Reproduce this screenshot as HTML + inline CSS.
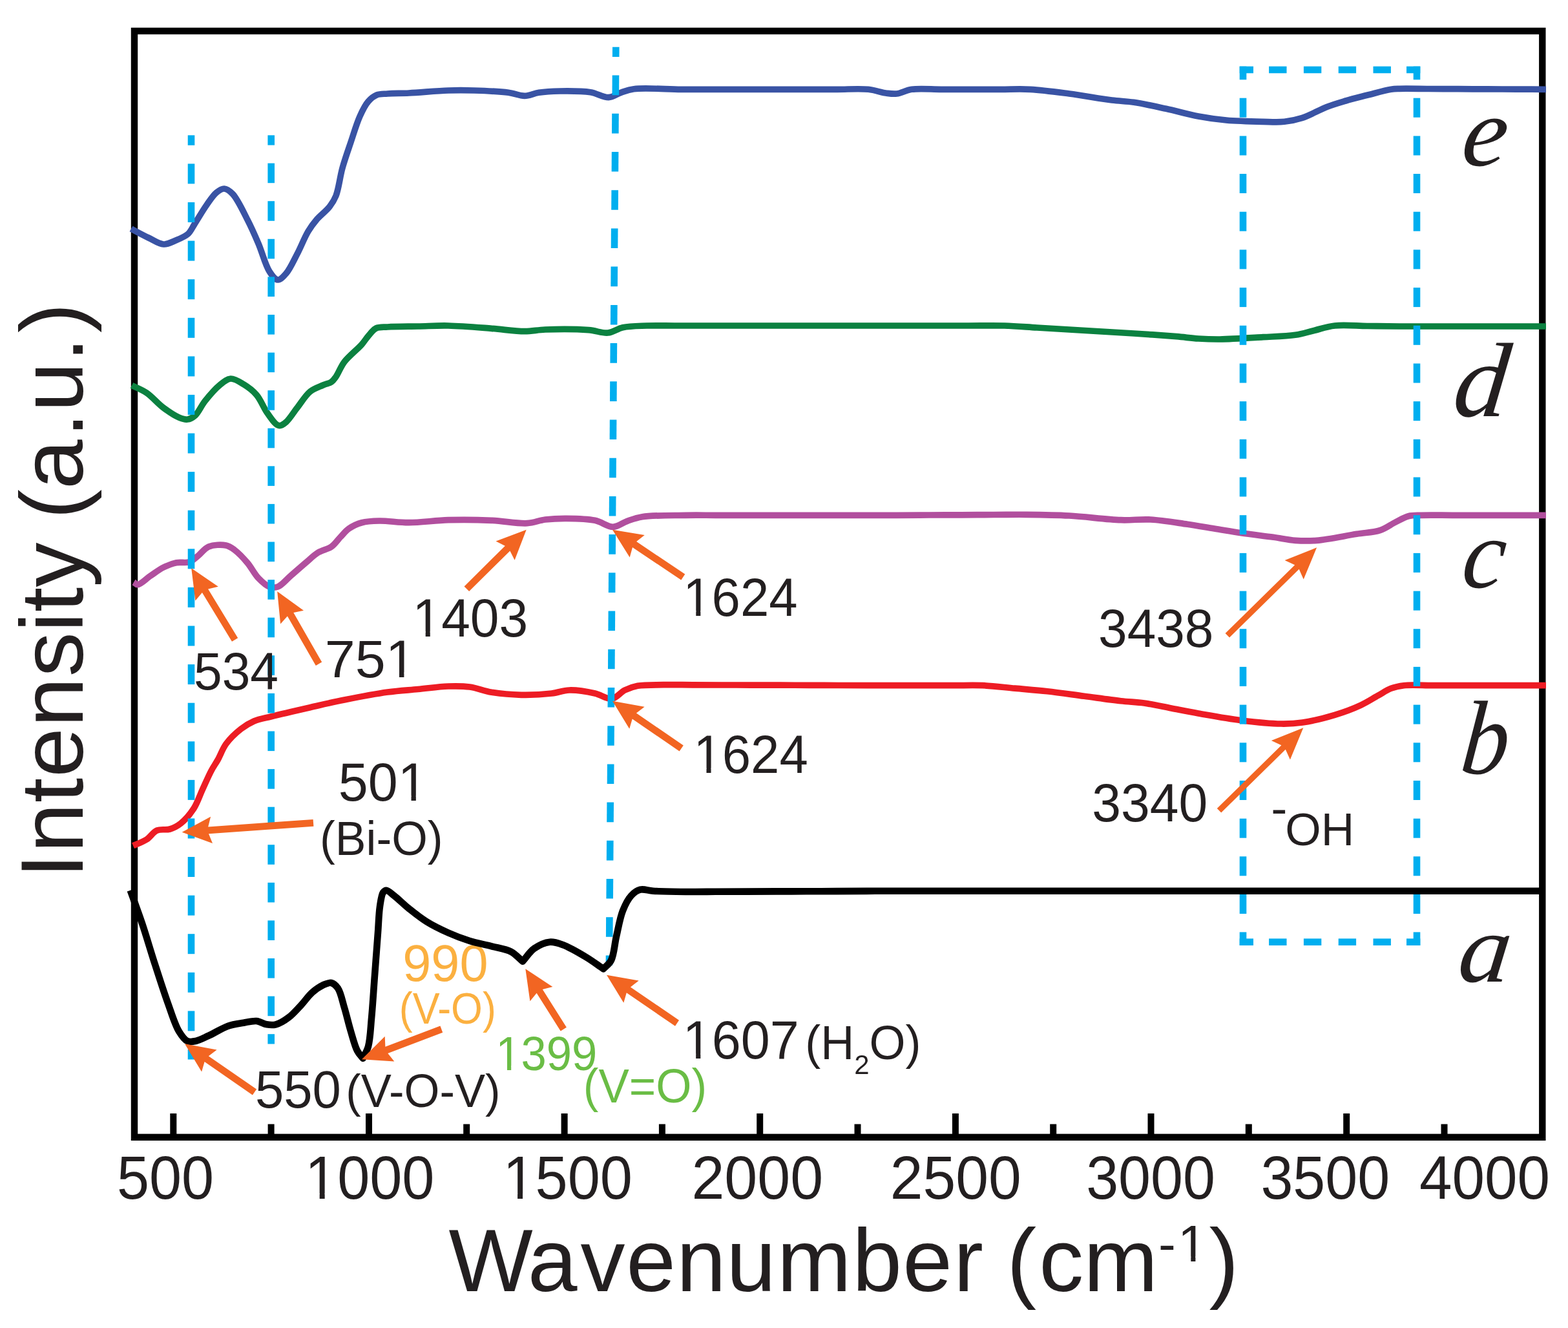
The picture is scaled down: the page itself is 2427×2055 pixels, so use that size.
<!DOCTYPE html>
<html lang="en"><head><meta charset="utf-8"><title>FTIR spectra</title>
<style>html,body{margin:0;padding:0;background:#fff}svg{display:block}text{font-family:"Liberation Sans",Arial,Helvetica,sans-serif;fill:#231f20}.it{font-family:"Liberation Serif","Times New Roman",Times,serif;font-style:italic}</style></head><body>
<svg xmlns="http://www.w3.org/2000/svg" width="2427" height="2055" viewBox="0 0 2427 2055">
<rect width="2427" height="2055" fill="#fff"/>
<rect x="208.0" y="48.0" width="2179.3" height="1711.8" fill="none" stroke="#000" stroke-width="10.4"/>
<rect x="263.3" y="1723.0" width="10.0" height="36.8" fill="#000"/>
<rect x="566.0" y="1723.0" width="10.0" height="36.8" fill="#000"/>
<rect x="868.6" y="1723.0" width="10.0" height="36.8" fill="#000"/>
<rect x="1171.2" y="1723.0" width="10.0" height="36.8" fill="#000"/>
<rect x="1473.9" y="1723.0" width="10.0" height="36.8" fill="#000"/>
<rect x="1776.5" y="1723.0" width="10.0" height="36.8" fill="#000"/>
<rect x="2079.2" y="1723.0" width="10.0" height="36.8" fill="#000"/>
<rect x="414.6" y="1739.5" width="10.0" height="20.3" fill="#000"/>
<rect x="717.2" y="1739.5" width="10.0" height="20.3" fill="#000"/>
<rect x="1019.9" y="1739.5" width="10.0" height="20.3" fill="#000"/>
<rect x="1322.5" y="1739.5" width="10.0" height="20.3" fill="#000"/>
<rect x="1625.2" y="1739.5" width="10.0" height="20.3" fill="#000"/>
<rect x="1927.8" y="1739.5" width="10.0" height="20.3" fill="#000"/>
<rect x="2230.5" y="1739.5" width="10.0" height="20.3" fill="#000"/>
<path d="M203.0 354.0C204.2 354.7 204.9 355.1 206.7 356.0C211.1 358.3 222.2 364.3 230.0 368.0C237.6 371.6 245.6 377.6 253.0 378.0C259.6 378.3 265.8 374.6 272.0 372.0C278.5 369.3 286.1 366.4 291.0 362.0C295.5 357.9 297.2 352.9 301.0 347.0C306.4 338.7 313.8 325.7 320.0 317.0C325.1 309.8 329.8 302.2 335.0 298.0C338.9 294.8 343.0 291.8 347.0 292.0C351.3 292.2 355.6 295.5 360.0 300.0C367.6 307.8 376.2 326.8 383.0 340.0C389.4 352.4 394.5 364.1 400.0 377.0C405.9 390.7 410.6 410.2 417.0 420.0C421.0 426.2 425.5 432.7 430.0 433.0C434.2 433.3 438.8 427.8 443.0 423.0C449.0 416.1 454.5 403.5 460.0 393.0C465.8 381.9 471.3 367.5 477.0 358.0C481.3 350.8 484.9 346.0 490.0 340.0C495.7 333.3 504.8 326.7 510.0 320.0C514.3 314.4 517.1 310.2 520.0 303.0C524.3 292.2 526.1 274.0 530.0 260.0C533.8 246.3 538.5 233.3 543.0 220.0C547.5 206.6 551.9 191.3 557.0 180.0C561.0 171.1 565.0 162.7 570.0 157.0C573.9 152.5 578.1 149.0 583.0 147.0C588.0 144.9 593.4 145.5 600.0 145.0C609.2 144.3 620.3 144.6 633.0 144.0C650.2 143.2 675.8 140.6 694.0 140.0C708.7 139.5 719.7 139.6 734.0 140.0C750.4 140.5 772.7 141.4 787.0 143.3C796.9 144.6 803.9 148.4 812.0 148.3C819.6 148.2 825.9 144.5 834.0 143.3C843.8 141.8 855.0 141.2 867.0 141.0C881.3 140.8 900.5 140.6 914.0 142.7C924.7 144.4 933.6 151.1 942.0 150.7C949.0 150.4 954.5 145.5 961.0 143.3C967.5 141.1 972.1 138.9 981.0 137.7C997.6 135.5 1032.2 138.2 1054.0 138.3C1071.8 138.4 1086.2 138.3 1102.3 138.3C1118.4 138.3 1134.6 138.3 1150.7 138.3C1166.8 138.3 1182.9 138.3 1199.0 138.3C1215.1 138.3 1231.2 138.3 1247.3 138.3C1263.4 138.3 1279.6 138.3 1295.7 138.3C1311.8 138.3 1330.3 136.9 1344.0 138.3C1354.4 139.4 1363.0 142.9 1371.0 144.0C1377.3 144.8 1382.0 145.7 1388.0 145.0C1395.2 144.2 1401.9 139.6 1411.0 138.3C1423.6 136.5 1441.7 138.3 1457.0 138.3C1472.3 138.3 1487.7 138.3 1503.0 138.3C1518.3 138.3 1533.7 138.3 1549.0 138.3C1564.3 138.3 1578.7 137.4 1595.0 138.3C1613.7 139.3 1634.6 142.3 1655.0 145.0C1676.5 147.8 1702.6 152.7 1721.0 155.0C1734.2 156.6 1742.6 156.5 1755.0 158.3C1770.1 160.5 1788.4 164.7 1805.0 168.3C1821.7 171.9 1838.9 177.0 1855.0 180.0C1869.8 182.8 1882.6 184.6 1898.0 186.0C1915.6 187.6 1938.6 188.0 1955.0 188.3C1967.5 188.6 1977.6 189.4 1988.0 188.3C1997.5 187.3 2005.3 185.8 2015.0 182.7C2027.2 178.8 2042.7 169.7 2055.0 165.0C2065.1 161.2 2073.2 158.9 2083.0 156.0C2093.5 152.9 2104.7 150.2 2116.0 147.3C2128.0 144.3 2143.8 139.8 2153.0 138.3C2158.4 137.4 2160.3 137.5 2166.0 137.3C2176.5 136.9 2196.3 137.4 2211.4 137.5C2226.5 137.6 2241.7 137.6 2256.8 137.7C2271.9 137.8 2287.1 137.8 2302.2 137.9C2317.3 138.0 2332.5 138.0 2347.6 138.1C2362.7 138.2 2377.9 138.2 2393.0 138.3" fill="none" stroke="#3953a4" stroke-width="9.7" stroke-linejoin="round" stroke-linecap="butt"/>
<path d="M204.0 596.3C211.7 600.2 219.4 602.8 227.0 608.0C235.8 614.0 244.2 624.5 253.0 631.0C260.9 636.9 270.0 643.1 277.0 646.0C281.8 648.0 285.8 649.5 290.0 649.0C294.2 648.5 298.2 646.3 302.0 643.0C307.4 638.3 311.2 628.4 317.0 621.0C323.6 612.7 332.5 602.1 340.0 596.0C345.7 591.4 351.0 586.4 357.0 586.0C363.3 585.6 370.6 590.8 377.0 594.7C384.0 598.9 391.2 604.3 397.0 611.0C403.4 618.4 407.6 630.1 413.0 638.0C417.6 644.8 422.9 652.8 427.0 656.0C429.2 657.7 430.8 658.8 433.0 658.7C435.9 658.6 439.5 656.0 443.0 653.0C448.4 648.3 454.1 638.5 460.0 631.0C466.4 622.9 472.6 612.0 480.0 606.0C486.2 601.0 494.0 598.7 500.0 596.0C504.7 593.9 509.6 593.4 513.0 591.0C516.0 588.9 517.5 586.5 520.0 583.0C523.9 577.5 527.2 567.6 533.0 560.0C539.9 550.9 553.4 540.6 560.0 533.0C564.3 528.0 566.4 524.1 570.0 520.0C573.7 515.8 577.1 510.3 582.0 508.0C587.1 505.6 592.6 506.5 600.0 506.0C612.0 505.2 631.3 505.3 647.0 505.0C662.7 504.7 677.0 503.6 694.0 504.0C714.4 504.4 740.2 506.7 761.0 508.3C779.2 509.7 797.0 512.7 812.0 512.7C823.9 512.7 831.4 510.5 844.0 510.0C862.2 509.3 893.1 509.3 911.0 510.7C923.0 511.6 931.8 515.9 941.0 515.0C949.3 514.2 955.3 508.6 964.0 506.7C974.7 504.4 988.2 504.5 1001.0 504.0C1014.8 503.5 1029.7 504.0 1044.0 504.0C1058.3 504.0 1072.7 504.0 1087.0 504.0C1101.3 504.0 1115.7 504.0 1130.0 504.0C1144.3 504.0 1158.7 504.0 1173.0 504.0C1187.3 504.0 1201.7 504.0 1216.0 504.0C1230.3 504.0 1244.7 504.0 1259.0 504.0C1273.3 504.0 1287.7 504.0 1302.0 504.0C1316.3 504.0 1330.7 504.0 1345.0 504.0C1359.3 504.0 1372.7 504.0 1388.0 504.0C1405.4 504.0 1425.1 504.0 1443.7 504.0C1462.2 504.0 1480.8 504.0 1499.3 504.0C1517.9 504.0 1537.0 503.5 1555.0 504.0C1572.1 504.5 1588.3 506.0 1605.0 507.0C1621.7 508.0 1638.3 509.0 1655.0 510.0C1671.7 511.0 1688.3 512.0 1705.0 513.0C1721.7 514.0 1737.2 514.8 1755.0 516.0C1775.5 517.3 1802.6 519.2 1821.0 520.7C1834.2 521.8 1843.7 523.3 1855.0 524.0C1866.1 524.7 1875.1 525.1 1888.0 525.0C1906.4 524.8 1934.3 522.9 1955.0 521.7C1972.9 520.7 1990.8 520.4 2005.0 518.3C2015.8 516.7 2023.3 514.0 2033.0 511.7C2043.5 509.2 2053.8 505.3 2066.0 504.0C2080.9 502.4 2099.3 504.3 2116.0 504.5C2132.7 504.7 2149.7 504.9 2166.0 505.0C2181.5 505.1 2196.3 505.0 2211.4 505.0C2226.5 505.0 2241.7 505.0 2256.8 505.0C2271.9 505.0 2287.1 505.0 2302.2 505.0C2317.3 505.0 2332.5 505.0 2347.6 505.0C2362.7 505.0 2377.9 505.0 2393.0 505.0" fill="none" stroke="#0b8140" stroke-width="9.7" stroke-linejoin="round" stroke-linecap="butt"/>
<path d="M207.0 901.0C209.0 902.2 210.4 904.8 213.0 904.7C217.7 904.6 226.3 895.5 233.0 891.0C239.6 886.6 246.1 881.4 253.0 878.0C259.5 874.8 266.2 872.1 273.0 870.7C279.6 869.4 287.2 871.7 293.0 869.7C298.4 867.8 302.3 863.4 307.0 859.7C312.2 855.6 316.4 848.7 323.0 846.0C330.4 842.9 342.8 842.5 350.0 844.0C355.3 845.1 358.5 847.6 363.0 851.0C369.3 855.7 376.9 863.8 383.0 871.0C389.2 878.3 393.8 888.3 400.0 894.7C405.3 900.2 411.4 906.1 417.0 908.0C421.4 909.5 425.5 909.6 430.0 908.0C436.4 905.7 443.1 896.9 450.0 891.0C457.4 884.6 465.6 877.3 473.0 871.0C479.9 865.2 486.0 858.9 493.0 854.7C499.4 850.8 507.3 850.0 513.0 846.0C518.6 842.1 522.4 835.8 527.0 831.0C531.4 826.5 534.8 821.6 540.0 818.0C545.7 814.0 552.6 810.7 560.0 808.7C568.2 806.5 576.8 806.2 587.0 806.0C600.3 805.7 616.6 808.8 633.0 808.7C651.9 808.6 673.2 805.3 694.0 804.7C715.8 804.1 739.8 804.4 761.0 805.3C780.3 806.2 800.8 810.6 816.0 809.7C826.9 809.0 834.2 805.2 844.0 804.0C854.5 802.7 865.2 802.2 877.0 802.3C890.6 802.4 908.1 802.6 921.0 805.3C931.6 807.5 940.3 815.5 949.0 815.3C956.8 815.1 963.5 808.9 971.0 806.3C978.5 803.7 984.2 801.3 994.0 799.7C1010.4 797.1 1040.7 797.7 1061.0 797.3C1078.0 797.0 1092.1 797.3 1107.7 797.3C1123.3 797.3 1138.9 797.3 1154.4 797.3C1170.0 797.3 1185.6 797.3 1201.1 797.3C1216.7 797.3 1232.3 797.3 1247.9 797.3C1263.4 797.3 1279.0 797.3 1294.6 797.3C1310.1 797.3 1325.7 797.3 1341.3 797.3C1356.9 797.3 1372.2 797.3 1388.0 797.3C1404.4 797.3 1421.3 797.1 1438.0 797.0C1454.7 797.0 1471.3 796.9 1488.0 796.8C1504.7 796.7 1521.3 796.6 1538.0 796.5C1554.7 796.5 1570.1 796.1 1588.0 796.3C1608.7 796.5 1631.7 796.7 1655.0 798.0C1680.5 799.4 1712.0 803.9 1735.0 804.7C1752.4 805.3 1764.9 803.1 1781.0 804.0C1799.0 805.0 1820.5 808.8 1838.0 811.3C1852.9 813.5 1865.7 815.8 1879.5 818.0C1893.3 820.2 1906.5 822.6 1921.0 824.7C1936.9 827.0 1955.9 829.2 1971.0 831.3C1983.4 833.0 1993.7 835.5 2005.0 836.3C2016.1 837.1 2025.3 837.3 2038.0 836.3C2055.5 834.9 2082.1 829.1 2100.0 826.3C2113.6 824.1 2125.5 824.2 2136.0 820.7C2145.1 817.7 2152.3 811.8 2160.0 808.0C2166.9 804.6 2173.2 800.5 2180.0 798.7C2186.5 797.0 2191.9 797.6 2200.0 797.3C2212.6 796.9 2232.2 797.3 2248.2 797.3C2264.3 797.3 2280.4 797.3 2296.5 797.3C2312.6 797.3 2328.7 797.3 2344.8 797.3C2360.8 797.3 2376.9 797.3 2393.0 797.3" fill="none" stroke="#b14f9e" stroke-width="9.7" stroke-linejoin="round" stroke-linecap="butt"/>
<path d="M206.0 1308.7C213.0 1305.5 220.7 1303.1 227.0 1299.0C233.0 1295.1 236.9 1287.6 243.0 1285.0C248.9 1282.4 256.8 1284.9 263.0 1283.0C269.1 1281.2 274.5 1278.4 280.0 1274.0C286.9 1268.5 294.5 1259.5 300.0 1251.0C305.5 1242.4 308.6 1232.3 313.0 1222.7C317.6 1212.8 322.5 1201.1 327.0 1192.7C330.4 1186.2 333.5 1182.2 337.0 1176.0C341.2 1168.6 344.3 1158.8 350.0 1151.0C356.1 1142.7 365.2 1134.1 373.0 1128.0C379.6 1122.9 385.6 1119.2 393.0 1116.0C401.1 1112.5 409.2 1111.4 420.0 1108.7C436.0 1104.7 460.6 1099.1 480.0 1094.7C498.2 1090.6 514.3 1086.7 533.0 1083.0C554.0 1078.8 579.6 1073.8 600.0 1071.0C617.0 1068.7 631.3 1068.0 647.0 1066.5C662.7 1065.0 679.7 1062.5 694.0 1062.0C706.0 1061.6 716.0 1061.5 727.0 1063.0C738.3 1064.5 748.7 1069.3 761.0 1071.3C775.1 1073.6 791.6 1075.0 807.0 1075.3C822.6 1075.6 840.5 1074.6 854.0 1073.0C864.3 1071.8 871.1 1068.3 881.0 1068.0C893.0 1067.6 909.2 1070.4 921.0 1073.0C930.7 1075.1 939.1 1082.4 947.0 1081.3C954.4 1080.3 960.1 1071.4 967.0 1068.0C973.5 1064.8 979.1 1062.8 987.0 1061.3C997.9 1059.3 1013.3 1060.0 1027.0 1059.7C1041.6 1059.4 1057.1 1059.8 1072.1 1059.8C1087.2 1059.9 1102.2 1059.9 1117.2 1060.0C1132.3 1060.0 1147.3 1060.0 1162.4 1060.1C1177.4 1060.1 1192.5 1060.2 1207.5 1060.2C1222.5 1060.2 1237.6 1060.3 1252.6 1060.3C1267.7 1060.4 1282.7 1060.4 1297.8 1060.5C1312.8 1060.5 1327.8 1060.5 1342.9 1060.6C1357.9 1060.6 1373.0 1060.7 1388.0 1060.7C1402.8 1060.7 1417.6 1060.7 1432.3 1060.7C1447.1 1060.7 1461.9 1060.7 1476.7 1060.7C1491.4 1060.7 1505.8 1060.0 1521.0 1060.7C1537.2 1061.4 1554.3 1063.7 1571.0 1065.2C1587.7 1066.7 1603.8 1067.8 1621.0 1069.7C1639.4 1071.7 1659.0 1074.7 1678.0 1077.2C1697.0 1079.7 1718.2 1082.8 1735.0 1084.7C1748.4 1086.2 1758.6 1086.3 1771.0 1088.0C1784.5 1089.9 1799.0 1093.3 1813.0 1096.0C1827.0 1098.7 1839.4 1101.3 1855.0 1104.0C1874.5 1107.4 1899.3 1112.0 1921.0 1114.7C1941.9 1117.3 1965.6 1119.8 1983.0 1120.0C1995.7 1120.2 2003.9 1119.8 2016.0 1118.0C2031.0 1115.8 2050.4 1111.0 2066.0 1106.3C2080.2 1102.0 2094.2 1096.8 2106.0 1091.3C2116.1 1086.6 2124.7 1080.9 2133.0 1076.3C2140.2 1072.3 2146.1 1067.9 2153.0 1065.3C2159.5 1062.8 2165.0 1061.6 2173.0 1060.7C2184.8 1059.4 2202.3 1060.7 2217.0 1060.7C2231.7 1060.7 2246.3 1060.7 2261.0 1060.7C2275.7 1060.7 2290.3 1060.7 2305.0 1060.7C2319.7 1060.7 2334.3 1060.7 2349.0 1060.7C2363.7 1060.7 2378.3 1060.7 2393.0 1060.7" fill="none" stroke="#ed1c24" stroke-width="9.7" stroke-linejoin="round" stroke-linecap="butt"/>
<g fill="#00aeef">
<polygon points="290.7,209.3 301.3,209.3 301.3,224.8 290.7,224.8"/>
<polygon points="290.7,253.4 301.3,253.4 301.3,284.4 290.7,284.4"/>
<polygon points="290.7,313.0 301.3,313.0 301.3,344.0 290.7,344.0"/>
<polygon points="290.7,372.6 301.3,372.6 301.3,403.6 290.7,403.6"/>
<polygon points="290.7,432.2 301.3,432.2 301.3,463.2 290.7,463.2"/>
<polygon points="290.7,491.8 301.3,491.8 301.3,522.8 290.7,522.8"/>
<polygon points="290.7,551.4 301.3,551.4 301.3,582.4 290.7,582.4"/>
<polygon points="290.7,610.9 301.3,610.9 301.3,641.9 290.7,641.9"/>
<polygon points="290.7,670.5 301.3,670.5 301.3,701.5 290.7,701.5"/>
<polygon points="290.7,730.1 301.3,730.1 301.3,761.1 290.7,761.1"/>
<polygon points="290.7,789.7 301.3,789.7 301.3,820.7 290.7,820.7"/>
<polygon points="290.7,849.3 301.3,849.3 301.3,880.3 290.7,880.3"/>
<polygon points="290.7,908.9 301.3,908.9 301.3,939.9 290.7,939.9"/>
<polygon points="290.7,968.5 301.3,968.5 301.3,999.5 290.7,999.5"/>
<polygon points="290.7,1028.1 301.3,1028.1 301.3,1059.1 290.7,1059.1"/>
<polygon points="290.7,1087.7 301.3,1087.7 301.3,1118.7 290.7,1118.7"/>
<polygon points="290.7,1147.3 301.3,1147.3 301.3,1178.3 290.7,1178.3"/>
<polygon points="290.7,1206.9 301.3,1206.9 301.3,1237.9 290.7,1237.9"/>
<polygon points="290.7,1266.5 301.3,1266.5 301.3,1297.5 290.7,1297.5"/>
<polygon points="290.7,1326.0 301.3,1326.0 301.3,1357.0 290.7,1357.0"/>
<polygon points="290.7,1385.6 301.3,1385.6 301.3,1416.6 290.7,1416.6"/>
<polygon points="290.7,1445.2 301.3,1445.2 301.3,1476.2 290.7,1476.2"/>
<polygon points="290.7,1504.8 301.3,1504.8 301.3,1535.8 290.7,1535.8"/>
<polygon points="290.7,1564.4 301.3,1564.4 301.3,1595.4 290.7,1595.4"/>
<polygon points="290.7,1624.0 301.3,1624.0 301.3,1639.5 290.7,1639.5"/>
<polygon points="414.4,209.3 425.0,209.3 425.0,224.6 414.4,224.6"/>
<polygon points="414.4,252.6 425.0,252.6 425.0,283.2 414.4,283.2"/>
<polygon points="414.4,311.2 425.0,311.2 425.0,341.8 414.4,341.8"/>
<polygon points="414.4,369.8 425.0,369.8 425.0,400.4 414.4,400.4"/>
<polygon points="414.4,428.4 425.0,428.4 425.0,459.0 414.4,459.0"/>
<polygon points="414.4,487.0 425.0,487.0 425.0,517.6 414.4,517.6"/>
<polygon points="414.4,545.6 425.0,545.6 425.0,576.1 414.4,576.1"/>
<polygon points="414.4,604.1 425.0,604.1 425.0,634.7 414.4,634.7"/>
<polygon points="414.4,662.7 425.0,662.7 425.0,693.3 414.4,693.3"/>
<polygon points="414.4,721.3 425.0,721.3 425.0,751.9 414.4,751.9"/>
<polygon points="414.4,779.9 425.0,779.9 425.0,810.5 414.4,810.5"/>
<polygon points="414.4,838.5 425.0,838.5 425.0,869.1 414.4,869.1"/>
<polygon points="414.4,897.1 425.0,897.1 425.0,927.7 414.4,927.7"/>
<polygon points="414.4,955.7 425.0,955.7 425.0,986.3 414.4,986.3"/>
<polygon points="414.4,1014.3 425.0,1014.3 425.0,1044.9 414.4,1044.9"/>
<polygon points="414.4,1072.9 425.0,1072.9 425.0,1103.5 414.4,1103.5"/>
<polygon points="414.4,1131.5 425.0,1131.5 425.0,1162.1 414.4,1162.1"/>
<polygon points="414.4,1190.1 425.0,1190.1 425.0,1220.7 414.4,1220.7"/>
<polygon points="414.4,1248.7 425.0,1248.7 425.0,1279.2 414.4,1279.2"/>
<polygon points="414.4,1307.2 425.0,1307.2 425.0,1337.8 414.4,1337.8"/>
<polygon points="414.4,1365.8 425.0,1365.8 425.0,1396.4 414.4,1396.4"/>
<polygon points="414.4,1424.4 425.0,1424.4 425.0,1455.0 414.4,1455.0"/>
<polygon points="414.4,1483.0 425.0,1483.0 425.0,1513.6 414.4,1513.6"/>
<polygon points="414.4,1541.6 425.0,1541.6 425.0,1572.2 414.4,1572.2"/>
<polygon points="414.4,1600.2 425.0,1600.2 425.0,1615.5 414.4,1615.5"/>
<polygon points="948.0,72.7 958.6,72.7 958.5,88.0 947.9,88.0"/>
<polygon points="947.7,116.6 958.3,116.6 958.1,147.2 947.5,147.2"/>
<polygon points="947.2,175.8 957.8,175.8 957.6,206.4 947.0,206.4"/>
<polygon points="946.8,235.0 957.4,235.0 957.2,265.6 946.6,265.6"/>
<polygon points="946.4,294.2 957.0,294.2 956.8,324.8 946.2,324.8"/>
<polygon points="945.9,353.4 956.5,353.4 956.3,384.0 945.7,384.0"/>
<polygon points="945.5,412.6 956.1,412.6 955.9,443.2 945.3,443.2"/>
<polygon points="945.1,471.9 955.7,471.9 955.5,502.5 944.9,502.5"/>
<polygon points="944.6,531.1 955.2,531.1 955.0,561.7 944.4,561.7"/>
<polygon points="944.2,590.3 954.8,590.3 954.6,620.9 944.0,620.9"/>
<polygon points="943.8,649.5 954.4,649.5 954.2,680.1 943.6,680.1"/>
<polygon points="943.3,708.7 953.9,708.7 953.7,739.3 943.1,739.3"/>
<polygon points="942.9,767.9 953.5,767.9 953.3,798.5 942.7,798.5"/>
<polygon points="942.5,827.1 953.1,827.1 952.9,857.7 942.3,857.7"/>
<polygon points="942.0,886.3 952.6,886.3 952.4,916.9 941.8,916.9"/>
<polygon points="941.6,945.5 952.2,945.5 952.0,976.1 941.4,976.1"/>
<polygon points="941.2,1004.7 951.8,1004.7 951.6,1035.3 941.0,1035.3"/>
<polygon points="940.7,1063.9 951.3,1063.9 951.1,1094.5 940.5,1094.5"/>
<polygon points="940.3,1123.2 950.9,1123.2 950.7,1153.8 940.1,1153.8"/>
<polygon points="939.9,1182.4 950.5,1182.4 950.3,1213.0 939.7,1213.0"/>
<polygon points="939.4,1241.6 950.0,1241.6 949.8,1272.2 939.2,1272.2"/>
<polygon points="939.0,1300.8 949.6,1300.8 949.4,1331.4 938.8,1331.4"/>
<polygon points="938.6,1360.0 949.2,1360.0 949.0,1390.6 938.4,1390.6"/>
<polygon points="938.1,1419.2 948.7,1419.2 948.5,1449.8 937.9,1449.8"/>
<polygon points="937.7,1478.4 948.3,1478.4 948.2,1493.7 937.6,1493.7"/>
<rect x="1918.7" y="102.7" width="21.3" height="10.6"/>
<rect x="2177.0" y="102.7" width="21.3" height="10.6"/>
<rect x="1964.1" y="102.7" width="27.4" height="10.6"/>
<rect x="2017.9" y="102.7" width="27.4" height="10.6"/>
<rect x="2071.7" y="102.7" width="27.4" height="10.6"/>
<rect x="2125.5" y="102.7" width="27.4" height="10.6"/>
<rect x="1918.7" y="1452.4" width="21.3" height="10.6"/>
<rect x="2177.0" y="1452.4" width="21.3" height="10.6"/>
<rect x="1964.1" y="1452.4" width="27.4" height="10.6"/>
<rect x="2017.9" y="1452.4" width="27.4" height="10.6"/>
<rect x="2071.7" y="1452.4" width="27.4" height="10.6"/>
<rect x="2125.5" y="1452.4" width="27.4" height="10.6"/>
<rect x="1918.7" y="102.7" width="10.6" height="20.6"/>
<rect x="1918.7" y="1442.4" width="10.6" height="20.6"/>
<rect x="1918.7" y="151.7" width="10.6" height="30.0"/>
<rect x="1918.7" y="210.4" width="10.6" height="30.0"/>
<rect x="1918.7" y="269.0" width="10.6" height="30.0"/>
<rect x="1918.7" y="327.7" width="10.6" height="30.0"/>
<rect x="1918.7" y="386.4" width="10.6" height="30.0"/>
<rect x="1918.7" y="445.1" width="10.6" height="30.0"/>
<rect x="1918.7" y="503.8" width="10.6" height="30.0"/>
<rect x="1918.7" y="562.5" width="10.6" height="30.0"/>
<rect x="1918.7" y="621.1" width="10.6" height="30.0"/>
<rect x="1918.7" y="679.8" width="10.6" height="30.0"/>
<rect x="1918.7" y="738.5" width="10.6" height="30.0"/>
<rect x="1918.7" y="797.2" width="10.6" height="30.0"/>
<rect x="1918.7" y="855.9" width="10.6" height="30.0"/>
<rect x="1918.7" y="914.6" width="10.6" height="30.0"/>
<rect x="1918.7" y="973.2" width="10.6" height="30.0"/>
<rect x="1918.7" y="1031.9" width="10.6" height="30.0"/>
<rect x="1918.7" y="1090.6" width="10.6" height="30.0"/>
<rect x="1918.7" y="1149.3" width="10.6" height="30.0"/>
<rect x="1918.7" y="1208.0" width="10.6" height="30.0"/>
<rect x="1918.7" y="1266.7" width="10.6" height="30.0"/>
<rect x="1918.7" y="1325.3" width="10.6" height="30.0"/>
<rect x="1918.7" y="1384.0" width="10.6" height="30.0"/>
<rect x="2187.7" y="102.7" width="10.6" height="20.6"/>
<rect x="2187.7" y="1442.4" width="10.6" height="20.6"/>
<rect x="2187.7" y="151.7" width="10.6" height="30.0"/>
<rect x="2187.7" y="210.4" width="10.6" height="30.0"/>
<rect x="2187.7" y="269.0" width="10.6" height="30.0"/>
<rect x="2187.7" y="327.7" width="10.6" height="30.0"/>
<rect x="2187.7" y="386.4" width="10.6" height="30.0"/>
<rect x="2187.7" y="445.1" width="10.6" height="30.0"/>
<rect x="2187.7" y="503.8" width="10.6" height="30.0"/>
<rect x="2187.7" y="562.5" width="10.6" height="30.0"/>
<rect x="2187.7" y="621.1" width="10.6" height="30.0"/>
<rect x="2187.7" y="679.8" width="10.6" height="30.0"/>
<rect x="2187.7" y="738.5" width="10.6" height="30.0"/>
<rect x="2187.7" y="797.2" width="10.6" height="30.0"/>
<rect x="2187.7" y="855.9" width="10.6" height="30.0"/>
<rect x="2187.7" y="914.6" width="10.6" height="30.0"/>
<rect x="2187.7" y="973.2" width="10.6" height="30.0"/>
<rect x="2187.7" y="1031.9" width="10.6" height="30.0"/>
<rect x="2187.7" y="1090.6" width="10.6" height="30.0"/>
<rect x="2187.7" y="1149.3" width="10.6" height="30.0"/>
<rect x="2187.7" y="1208.0" width="10.6" height="30.0"/>
<rect x="2187.7" y="1266.7" width="10.6" height="30.0"/>
<rect x="2187.7" y="1325.3" width="10.6" height="30.0"/>
<rect x="2187.7" y="1384.0" width="10.6" height="30.0"/>
</g>
<text transform="translate(623.23 1518.20) scale(1.0044 1)" font-size="78.92" style="fill:#fbb040">990</text>
<text transform="translate(617.83 1583.90) scale(0.9101 1)" font-size="69.04" style="fill:#fbb040">(V-O)</text>
<path d="M201.7 1377.7C207.8 1394.8 213.9 1410.9 220.0 1429.0C226.7 1449.0 233.2 1471.8 240.0 1492.7C246.6 1513.0 253.4 1534.4 260.0 1552.7C265.7 1568.4 270.7 1585.7 277.0 1596.0C281.1 1602.7 285.1 1608.8 290.0 1611.0C294.0 1612.8 298.3 1611.9 303.0 1611.0C309.1 1609.8 315.7 1606.0 323.0 1602.7C332.1 1598.6 343.3 1591.1 353.0 1587.7C361.3 1584.8 369.3 1584.0 377.0 1582.7C383.9 1581.5 390.8 1579.4 397.0 1580.0C402.7 1580.5 407.8 1584.5 413.0 1585.3C417.8 1586.1 422.1 1586.6 427.0 1585.3C433.3 1583.7 440.7 1579.1 447.0 1574.3C454.1 1569.0 460.8 1560.9 467.0 1554.3C472.7 1548.2 477.2 1541.1 483.0 1536.0C488.3 1531.3 494.5 1526.8 500.0 1524.3C504.4 1522.3 509.1 1520.1 513.0 1521.0C516.8 1521.9 520.1 1525.1 523.0 1529.3C527.5 1535.8 529.8 1548.7 533.0 1559.3C536.5 1570.9 539.5 1584.4 543.0 1596.0C546.2 1606.6 549.1 1618.5 553.0 1626.0C555.6 1631.1 558.8 1633.8 561.7 1637.7C564.5 1631.6 567.9 1626.9 570.0 1619.3C573.1 1608.1 573.5 1592.0 575.0 1576.0C576.9 1556.2 578.3 1531.5 580.0 1509.3C581.7 1487.1 583.5 1462.1 585.0 1442.7C586.1 1427.7 586.3 1414.0 588.0 1402.7C589.3 1394.3 590.3 1384.9 593.0 1381.0C594.4 1379.0 596.0 1377.7 598.0 1377.7C601.1 1377.7 605.5 1382.5 610.0 1386.0C616.6 1391.1 624.9 1399.5 633.0 1406.0C641.5 1412.8 650.2 1419.9 660.0 1426.0C670.4 1432.5 682.6 1438.4 694.0 1443.5C704.9 1448.4 715.8 1452.5 727.0 1456.0C738.1 1459.5 750.0 1461.4 761.0 1464.3C771.3 1467.0 782.7 1468.3 791.0 1472.7C798.2 1476.5 803.0 1482.7 809.0 1487.7C815.0 1481.0 819.9 1472.7 827.0 1467.7C834.0 1462.8 843.3 1458.4 851.0 1457.7C857.9 1457.1 863.6 1459.3 871.0 1462.0C881.5 1465.8 896.0 1474.4 907.0 1481.0C916.8 1486.9 925.0 1493.2 934.0 1499.3C938.0 1494.9 942.9 1492.1 946.0 1486.0C950.5 1477.2 951.1 1461.8 954.0 1449.3C957.1 1436.2 959.5 1420.6 964.0 1409.3C967.6 1400.2 971.8 1391.6 977.0 1386.0C981.1 1381.5 985.7 1378.0 991.0 1376.7C996.9 1375.2 1002.8 1378.2 1011.0 1378.7C1023.9 1379.5 1044.6 1379.8 1061.0 1380.0C1076.8 1380.2 1092.1 1379.9 1107.7 1379.8C1123.3 1379.8 1138.9 1379.7 1154.4 1379.6C1170.0 1379.6 1185.6 1379.5 1201.1 1379.4C1216.7 1379.4 1232.3 1379.3 1247.9 1379.3C1263.4 1379.2 1279.0 1379.1 1294.6 1379.1C1310.1 1379.0 1325.7 1378.9 1341.3 1378.9C1356.9 1378.8 1372.7 1378.7 1388.0 1378.7C1402.7 1378.7 1417.0 1378.7 1431.4 1378.7C1445.9 1378.7 1460.4 1378.7 1474.9 1378.7C1489.3 1378.7 1503.8 1378.7 1518.3 1378.7C1532.8 1378.7 1547.3 1378.7 1561.7 1378.7C1576.2 1378.7 1590.7 1378.7 1605.2 1378.7C1619.7 1378.7 1634.1 1378.7 1648.6 1378.7C1663.1 1378.7 1677.6 1378.7 1692.0 1378.7C1706.5 1378.7 1721.0 1378.7 1735.5 1378.7C1750.0 1378.7 1764.4 1378.7 1778.9 1378.7C1793.4 1378.7 1807.9 1378.7 1822.3 1378.7C1836.8 1378.7 1851.3 1378.7 1865.8 1378.7C1880.3 1378.7 1894.7 1378.7 1909.2 1378.7C1923.7 1378.7 1938.2 1378.7 1952.7 1378.7C1967.1 1378.7 1981.6 1378.7 1996.1 1378.7C2010.6 1378.7 2025.0 1378.7 2039.5 1378.7C2054.0 1378.7 2068.5 1378.7 2083.0 1378.7C2097.4 1378.7 2111.9 1378.7 2126.4 1378.7C2140.9 1378.7 2155.3 1378.7 2169.8 1378.7C2184.3 1378.7 2198.8 1378.7 2213.3 1378.7C2227.7 1378.7 2242.2 1378.7 2256.7 1378.7C2271.2 1378.7 2285.7 1378.7 2300.1 1378.7C2314.6 1378.7 2329.1 1378.7 2343.6 1378.7C2358.0 1378.7 2372.5 1378.7 2387.0 1378.7" fill="none" stroke="#000000" stroke-width="10.6" stroke-linejoin="round" stroke-linecap="butt"/>
<g fill="#f26522">
<polygon points="296.2,879.3 337.8,907.8 322.1,911.5 368.2,987.2 359.0,992.8 312.9,917.1 302.4,929.4"/>
<polygon points="429.2,915.2 470.0,944.8 454.3,948.1 498.2,1024.6 488.8,1030.0 444.9,953.5 434.1,965.4"/>
<polygon points="814.7,819.7 796.6,866.8 789.4,852.4 726.1,915.1 718.5,907.5 781.8,844.7 767.5,837.4"/>
<polygon points="948.0,819.7 997.7,828.1 985.1,838.1 1060.3,888.5 1054.3,897.5 979.0,847.0 974.7,862.5"/>
<polygon points="948.0,1084.7 997.6,1093.7 984.9,1103.5 1057.8,1153.5 1051.6,1162.5 978.7,1112.4 974.2,1127.8"/>
<polygon points="2038.1,847.3 2017.7,896.4 2010.7,880.7 1903.0,986.5 1896.6,979.9 2004.2,874.2 1988.6,866.9"/>
<polygon points="2017.3,1126.3 1996.9,1175.4 1989.8,1159.7 1890.2,1257.6 1883.8,1251.0 1983.4,1153.2 1967.8,1145.9"/>
<polygon points="281.7,1287.7 326.1,1263.8 322.2,1279.4 484.6,1267.9 485.4,1278.7 323.0,1290.2 329.0,1305.1"/>
<polygon points="286.0,1615.3 335.6,1624.4 322.8,1634.2 397.1,1685.6 390.9,1694.4 316.6,1643.1 312.1,1658.5"/>
<polygon points="560.0,1639.3 595.7,1603.7 596.4,1619.8 681.4,1587.6 685.2,1597.8 600.3,1629.9 610.3,1642.4"/>
<polygon points="813.3,1499.3 855.4,1527.1 839.8,1531.1 876.9,1589.8 867.7,1595.6 830.6,1536.8 820.4,1549.2"/>
<polygon points="939.0,1508.7 988.7,1517.6 975.9,1527.4 1051.0,1578.8 1045.0,1587.8 969.8,1536.3 965.3,1551.8"/>
</g>
<text transform="translate(299.95 1067.30) scale(0.9688 1)" font-size="81.10">534</text>
<text transform="translate(502.77 1048.40) scale(1.0414 1)" font-size="81.10">751</text>
<g transform="translate(502.77 1048.40) scale(1.0414 1)" fill="#fff"><rect x="94.94" y="-7.56" width="15.64" height="9.42"/><rect x="117.75" y="-7.56" width="15.21" height="9.42"/></g>
<text transform="translate(638.49 984.80) scale(0.9643 1)" font-size="83.28">1403</text>
<g transform="translate(638.49 984.80) scale(0.9643 1)" fill="#fff"><rect x="4.88" y="-7.72" width="16.06" height="9.63"/><rect x="28.30" y="-7.72" width="15.62" height="9.63"/></g>
<text transform="translate(1057.25 952.70) scale(0.9568 1)" font-size="83.28">1624</text>
<g transform="translate(1057.25 952.70) scale(0.9568 1)" fill="#fff"><rect x="4.88" y="-7.72" width="16.06" height="9.63"/><rect x="28.30" y="-7.72" width="15.62" height="9.63"/></g>
<text transform="translate(1073.45 1196.40) scale(0.9568 1)" font-size="83.28">1624</text>
<g transform="translate(1073.45 1196.40) scale(0.9568 1)" fill="#fff"><rect x="4.88" y="-7.72" width="16.06" height="9.63"/><rect x="28.30" y="-7.72" width="15.62" height="9.63"/></g>
<text transform="translate(1700.07 1000.50) scale(0.9627 1)" font-size="83.28">3438</text>
<text transform="translate(1690.36 1271.30) scale(0.9650 1)" font-size="83.28">3340</text>
<text transform="translate(523.85 1239.00) scale(1.0009 1)" font-size="82.56">501</text>
<g transform="translate(523.85 1239.00) scale(1.0009 1)" fill="#fff"><rect x="96.65" y="-7.67" width="15.92" height="9.56"/><rect x="119.87" y="-7.67" width="15.48" height="9.56"/></g>
<text transform="translate(495.06 1323.00) scale(0.9551 1)" font-size="74.85">(Bi-O)</text>
<text transform="translate(394.91 1713.70) scale(0.9822 1)" font-size="81.10">550</text>
<text transform="translate(535.29 1713.20) scale(0.9794 1)" font-size="72.09">(V-O-V)</text>
<text transform="translate(767.19 1656.40) scale(0.9532 1)" font-size="74.13" style="fill:#6abd45">1399</text>
<g transform="translate(767.19 1656.40) scale(0.9532 1)" fill="#fff"><rect x="4.34" y="-7.04" width="14.30" height="8.74"/><rect x="25.19" y="-7.04" width="13.90" height="8.74"/></g>
<text transform="translate(902.84 1706.20) scale(0.9689 1)" font-size="73.26" style="fill:#6abd45">(V=O)</text>
<text transform="translate(1056.84 1638.20) scale(0.9705 1)" font-size="83.28">1607</text>
<g transform="translate(1056.84 1638.20) scale(0.9705 1)" fill="#fff"><rect x="4.88" y="-7.72" width="16.06" height="9.63"/><rect x="28.30" y="-7.72" width="15.62" height="9.63"/></g>
<text transform="translate(1246.28 1638.80) scale(0.9830 1)" font-size="73.26">(H<tspan font-size="58.3%" dy="23.3">2</tspan><tspan dy="-23.3">O)</tspan></text>
<text transform="translate(1967.37 1275.00) scale(1.0783 1)" font-size="70.20">-</text>
<text transform="translate(1989.30 1307.70) scale(1.0151 1)" font-size="70.20">OH</text>
<text transform="translate(181.03 1855.30) scale(0.9508 1)" font-size="94.62">500</text>
<text transform="translate(472.03 1855.30) scale(0.9522 1)" font-size="94.62">1000</text>
<g transform="translate(472.03 1855.30) scale(0.9522 1)" fill="#fff"><rect x="5.54" y="-8.57" width="18.25" height="10.74"/><rect x="32.16" y="-8.57" width="17.74" height="10.74"/></g>
<text transform="translate(778.43 1855.30) scale(0.9522 1)" font-size="94.62">1500</text>
<g transform="translate(778.43 1855.30) scale(0.9522 1)" fill="#fff"><rect x="5.54" y="-8.57" width="18.25" height="10.74"/><rect x="32.16" y="-8.57" width="17.74" height="10.74"/></g>
<text transform="translate(1070.42 1855.30) scale(0.9682 1)" font-size="94.62">2000</text>
<text transform="translate(1377.63 1855.30) scale(0.9648 1)" font-size="94.62">2500</text>
<text transform="translate(1681.18 1855.30) scale(0.9491 1)" font-size="94.62">3000</text>
<text transform="translate(1951.38 1855.30) scale(0.9486 1)" font-size="94.62">3500</text>
<text transform="translate(2196.94 1855.30) scale(0.9604 1)" font-size="94.62">4000</text>
<text transform="translate(0 1998.30)" x="694.4 816.8 898.5 969.3 1046.9 1124.2 1202.8 1319.2 1397.2 1476.0 1522.0 1558.3 1608.3 1677.3 1793.1 1823.1 1871.5" y="0" font-size="138.00">Wavenumber (cm<tspan font-size="58.3%" dy="-46.3">-1</tspan><tspan dy="46.3">)</tspan></text>
<g transform="translate(0 1998.30)" fill="#fff"><rect x="1827.78" y="-53.81" width="15.52" height="9.36"/><rect x="1850.41" y="-53.81" width="15.09" height="9.36"/></g>
<text transform="translate(128.20 1346.00) rotate(-90)" x="-12.9 26.6 104.1 143.3 220.9 298.7 368.0 399.0 437.5 506.5 542.7 589.0 669.3 708.8 786.1 831.1" y="0" font-size="138.00">Intensity (a.u.)</text>
<text class="it" transform="translate(2259.51 255.56) scale(0.9857 0.9629) skewX(-6)" font-size="160.00">e</text>
<text class="it" transform="translate(2246.06 644.11) scale(1.0537 1.0226) skewX(-6)" font-size="160.00">d</text>
<text class="it" transform="translate(2259.88 909.46) scale(0.9357 0.9577) skewX(-6)" font-size="160.00">c</text>
<text class="it" transform="translate(2257.90 1197.48) scale(0.9230 1.0160) skewX(-6)" font-size="160.00">b</text>
<text class="it" transform="translate(2253.73 1519.24) scale(1.0100 0.9468) skewX(-6)" font-size="160.00">a</text>
</svg></body></html>
